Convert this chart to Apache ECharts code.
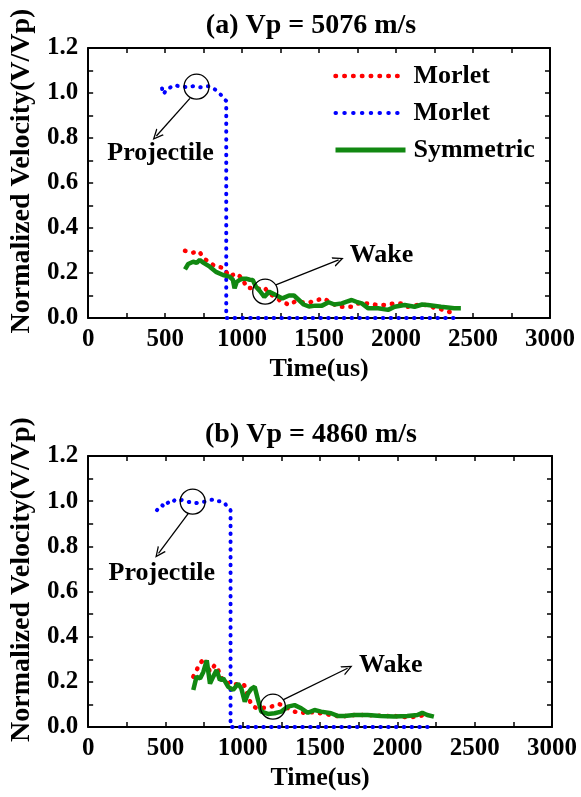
<!DOCTYPE html>
<html>
<head>
<meta charset="utf-8">
<script src="https://cdn.jsdelivr.net/npm/echarts@6/dist/echarts.min.js"></script>
<style>
  html, body { margin: 0; padding: 0; background: #fff; }
  #chart { width: 581px; height: 797px; }
</style>
</head>
<body>
<div id="chart"></div>
<script>
// (a) Vp = 5076 m/s  -- [time (us), normalized velocity]
const projectileA = [
  [480, 1.02], [488, 0.995], [500, 1.005], [515, 1.02], [535, 1.025], [560, 1.035],
  [590, 1.03], [620, 1.028], [650, 1.025], [680, 1.03], [705, 1.028], [730, 1.025],
  [760, 1.03], [790, 1.03], [815, 1.02], [835, 1.01], [850, 1.0], [865, 0.99],
  [880, 0.975], [897, 0.965], [897, 0], [2400, 0]
];
const wakeMorletA = [
  [629, 0.299], [678, 0.29], [721, 0.296], [751, 0.265], [785, 0.25], [826, 0.228],
  [876, 0.224], [918, 0.184], [961, 0.199], [993, 0.181], [1036, 0.132], [1069, 0.135],
  [1110, 0.13], [1144, 0.136], [1176, 0.11], [1220, 0.09], [1257, 0.073], [1309, 0.058],
  [1343, 0.073], [1390, 0.07], [1434, 0.068], [1487, 0.08], [1530, 0.087], [1584, 0.065],
  [1627, 0.05], [1669, 0.05], [1712, 0.05], [1755, 0.065], [1820, 0.065], [1873, 0.058],
  [1927, 0.058], [1991, 0.065], [2034, 0.065], [2077, 0.05], [2142, 0.058], [2206, 0.058],
  [2250, 0.045], [2292, 0.039], [2335, 0.028], [2378, 0.024]
];
const symmetricA = [
  [629, 0.216], [650, 0.24], [682, 0.25], [705, 0.245], [725, 0.258], [750, 0.245],
  [790, 0.228], [830, 0.205], [876, 0.191], [918, 0.184], [940, 0.17], [951, 0.132],
  [965, 0.16], [983, 0.169], [1005, 0.175], [1026, 0.175], [1050, 0.17], [1069, 0.169],
  [1090, 0.139], [1115, 0.12], [1144, 0.094], [1176, 0.117], [1219, 0.102], [1262, 0.087],
  [1305, 0.1], [1337, 0.1], [1369, 0.08], [1400, 0.06], [1434, 0.051], [1476, 0.055],
  [1519, 0.055], [1562, 0.07], [1600, 0.06], [1648, 0.065], [1680, 0.073], [1712, 0.08],
  [1750, 0.07], [1777, 0.065], [1820, 0.043], [1884, 0.043], [1948, 0.036], [1991, 0.05],
  [2056, 0.058], [2120, 0.05], [2170, 0.06], [2206, 0.058], [2292, 0.05], [2378, 0.043],
  [2421, 0.043]
];

// (b) Vp = 4860 m/s
const projectileB = [
  [445, 0.96], [460, 0.975], [477, 0.983], [495, 0.975], [510, 0.99], [530, 1.0],
  [545, 0.995], [560, 1.005], [585, 1.0], [605, 1.005], [630, 1.0], [660, 0.995],
  [690, 0.99], [720, 0.995], [756, 0.998], [790, 1.005], [820, 1.008], [845, 1.0],
  [863, 1.0], [885, 0.99], [906, 0.968], [921, 0.96], [921, 0], [2195, 0]
];
const wakeMorletB = [
  [680, 0.223], [724, 0.282], [751, 0.304], [788, 0.245], [820, 0.275], [841, 0.252],
  [874, 0.198], [949, 0.19], [1009, 0.186], [1056, 0.097], [1088, 0.083], [1140, 0.085],
  [1185, 0.09], [1228, 0.102], [1260, 0.097], [1300, 0.08], [1335, 0.068], [1378, 0.061],
  [1420, 0.068], [1464, 0.063], [1507, 0.061], [1571, 0.053], [1635, 0.046], [1721, 0.053],
  [1807, 0.053], [1893, 0.049], [1979, 0.049], [2064, 0.043], [2129, 0.046], [2172, 0.053]
];
const symmetricB = [
  [680, 0.164], [701, 0.223], [724, 0.215], [745, 0.244], [767, 0.295], [788, 0.192],
  [809, 0.223], [831, 0.252], [852, 0.208], [874, 0.215], [906, 0.178], [938, 0.164],
  [970, 0.192], [991, 0.17], [1013, 0.112], [1034, 0.149], [1056, 0.17], [1077, 0.178],
  [1099, 0.119], [1120, 0.068], [1163, 0.058], [1206, 0.061], [1249, 0.068], [1292, 0.09],
  [1335, 0.097], [1378, 0.083], [1421, 0.063], [1464, 0.075], [1507, 0.068], [1571, 0.061],
  [1614, 0.049], [1657, 0.049], [1721, 0.053], [1807, 0.053], [1893, 0.049], [1979, 0.046],
  [2064, 0.049], [2129, 0.053], [2161, 0.063], [2193, 0.053], [2236, 0.046]
];

const titles = ['(a) Vp = 5076 m/s', '(b) Vp = 4860 m/s'];
const legendNames = ['Morlet', 'Morlet ', 'Symmetric'];
// annotation anchors: [circle, arrow start, arrow end, label]
const projNotes = [
  [[704, 1.028], [661, 0.976], [443, 0.809], [470, 0.733]],
  [[676, 0.998], [648, 0.946], [455, 0.769], [476, 0.682]]
];
const wakeNotes = [
  [[1150, 0.117], [1219, 0.147], [1627, 0.258], [1906, 0.28]],
  [[1195, 0.09], [1260, 0.12], [1678, 0.26], [1957, 0.275]]
];

const FONT = '"Liberation Serif", "Times New Roman", serif';
const arrowHead = 'path://M5,0 L10,10 L8.6,10 L5,2.8 L1.4,10 L0,10 Z';
const RED = '#ff0000', BLUE = '#0000ff', GREEN = '#118811';

function axisCommon(showLabel) {
  return {
    axisLine: { show: true, onZero: false, lineStyle: { color: '#000', width: 2 } },
    axisTick: { show: true, inside: true, length: 5, lineStyle: { color: '#000', width: 1.5 } },
    minorTick: { show: true, splitNumber: 2, length: 5, lineStyle: { color: '#000', width: 1.5 } },
    splitLine: { show: false },
    axisLabel: { show: showLabel, color: '#000', fontFamily: FONT, fontWeight: 'bold', fontSize: 25 }
  };
}

const grids = [
  { left: 84, top: 48, width: 466, height: 270 },
  { left: 86, top: 456, width: 466, height: 271 }
];

const xAxes = [];
const yAxes = [];
grids.forEach((g, i) => {
  const xb = Object.assign(axisCommon(true), {
    type: 'value', gridIndex: i, position: 'bottom', min: 0, max: 3000, interval: 500,
    name: 'Time(us)', nameLocation: 'middle', nameGap: 38,
    nameTextStyle: { color: '#000', fontFamily: FONT, fontWeight: 'bold', fontSize: 26 }
  });
  xb.axisLabel.margin = 9;
  xb.axisLabel.formatter = (v) => String(v);
  xAxes.push(xb);
  xAxes.push(Object.assign(axisCommon(false), {
    type: 'value', gridIndex: i, position: 'top', min: 0, max: 3000, interval: 500
  }));
  const yl = Object.assign(axisCommon(true), {
    type: 'value', gridIndex: i, position: 'left', min: 0, max: 1.2, interval: 0.2,
    name: 'Normalized Velocity(V/Vp)', nameLocation: 'middle', nameGap: 47,
    nameTextStyle: { color: '#000', fontFamily: FONT, fontWeight: 'bold', fontSize: 28, padding: [0, 0, 0, 24] }
  });
  yl.axisLabel.margin = 10;
  yl.axisLabel.formatter = (v) => v.toFixed(1);
  yAxes.push(yl);
  yAxes.push(Object.assign(axisCommon(false), {
    type: 'value', gridIndex: i, position: 'right', min: 0, max: 1.2, interval: 0.2
  }));
});

function dotted(color, gap, width) {
  return { color: color, width: width, type: [0.5, gap], cap: 'round' };
}

const textLabel = { show: true, position: 'inside', color: '#000', fontFamily: FONT, fontWeight: 'bold', fontSize: 26 };

const series = [];
[[projectileA, wakeMorletA, symmetricA], [projectileB, wakeMorletB, symmetricB]].forEach((set, i) => {
  const axes = { xAxisIndex: i * 2, yAxisIndex: i * 2 };
  const p = projNotes[i], w = wakeNotes[i];
  series.push(Object.assign({
    name: legendNames[0], type: 'line', data: set[1], symbol: 'none',
    itemStyle: { color: RED }, lineStyle: dotted(RED, 8, 4.5), z: 3
  }, axes));
  series.push(Object.assign({
    name: legendNames[1], type: 'line', data: set[0], symbol: 'none',
    itemStyle: { color: BLUE }, lineStyle: dotted(BLUE, 7.3, 4), z: 2
  }, axes));
  series.push(Object.assign({
    name: legendNames[2], type: 'line', data: set[2], symbol: 'none',
    itemStyle: { color: GREEN }, lineStyle: { color: GREEN, width: 4.5 }, z: 4,
    markPoint: {
      silent: true, animation: false,
      data: [
        { coord: p[0], symbol: 'circle', symbolSize: 25, label: { show: false },
          itemStyle: { color: 'rgba(0,0,0,0)', borderColor: '#000', borderWidth: 1.3 } },
        { coord: w[0], symbol: 'circle', symbolSize: 25, label: { show: false },
          itemStyle: { color: 'rgba(0,0,0,0)', borderColor: '#000', borderWidth: 1.3 } },
        { coord: p[3], symbol: 'circle', symbolSize: 1, itemStyle: { color: 'rgba(0,0,0,0)' },
          label: Object.assign({ formatter: 'Projectile' }, textLabel) },
        { coord: w[3], symbol: 'circle', symbolSize: 1, itemStyle: { color: 'rgba(0,0,0,0)' },
          label: Object.assign({ formatter: 'Wake' }, textLabel) }
      ]
    },
    markLine: {
      silent: true, animation: false, symbol: ['none', arrowHead], symbolSize: [10, 11],
      label: { show: false },
      lineStyle: { color: '#000', width: 1.3, type: 'solid' },
      data: [
        [{ coord: p[1] }, { coord: p[2] }],
        [{ coord: w[1] }, { coord: w[2] }]
      ]
    }
  }, axes));
});

const chart = echarts.init(document.getElementById('chart'));
chart.setOption({
  animation: false,
  backgroundColor: '#fff',
  title: titles.map((t, i) => ({
    text: t, left: 306, top: i === 0 ? 7 : 416, textAlign: 'center',
    textStyle: { color: '#000', fontFamily: FONT, fontWeight: 'bold', fontSize: 28 }
  })),
  legend: {
    data: [
      { name: legendNames[0], lineStyle: dotted(RED, 8.3, 4.5) },
      { name: legendNames[1], lineStyle: dotted(BLUE, 8.3, 4) },
      { name: legendNames[2], lineStyle: { color: GREEN, width: 5, type: 'solid' } }
    ],
    orient: 'vertical', left: 333, top: 63, padding: 0,
    itemWidth: 70, itemHeight: 14, itemGap: 11, selectedMode: false,
    itemStyle: { color: 'rgba(0,0,0,0)', borderWidth: 0, opacity: 0 },
    textStyle: { color: '#000', fontFamily: FONT, fontWeight: 'bold', fontSize: 26, lineHeight: 26, padding: [0, 0, 0, 3] }
  },
  grid: grids,
  xAxis: xAxes,
  yAxis: yAxes,
  series: series
});
</script>
</body>
</html>
